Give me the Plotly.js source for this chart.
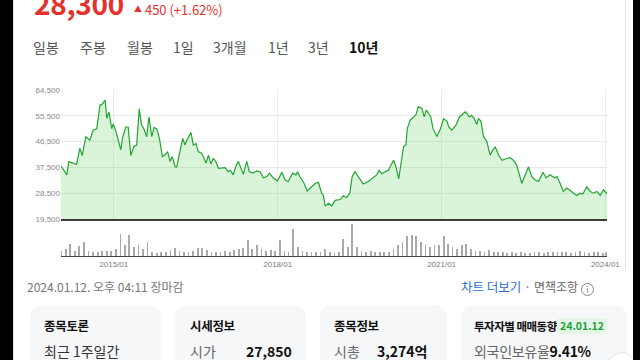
<!DOCTYPE html>
<html><head><meta charset="utf-8">
<script src="https://cdn.plot.ly/plotly-3.0.1.min.js"></script>
<style>
html,body{margin:0;padding:0;width:640px;height:360px;overflow:hidden;background:#000;}
#page{position:absolute;left:13px;top:0;width:620px;height:360px;background:#fff;border-left:1px solid #e3e3e3;}
.t{position:absolute;white-space:nowrap;font-family:"Noto Sans CJK KR","Noto Sans",sans-serif;}
.tab{top:37px;font-size:14px;line-height:20px;color:#555;}
.card{position:absolute;top:305px;height:80px;background:#f6f7f9;border-radius:12px;}
.ct{font-size:12.5px;font-weight:700;color:#111;top:317px;line-height:18px;letter-spacing:-0.3px;}
.cv{font-size:14px;color:#666;top:341px;line-height:20px;}
.cb{font-size:14px;font-weight:700;color:#111;top:341px;line-height:20px;}
#chart{position:absolute;left:0;top:80px;width:640px;height:195px;}
</style></head>
<body>
<div id="page"></div>
<div style="position:absolute;left:625px;top:0;width:1px;height:270px;background:#e6e6e6;"></div>
<div class="t" style="left:34px;top:-13px;font-size:28px;font-weight:700;color:#e5312b;line-height:32px;letter-spacing:-0.3px;">28,300</div>
<div class="t" style="left:134px;top:0px;font-size:13px;color:#e5312b;line-height:18px;"><span style="font-size:8px;vertical-align:3px;">▲</span> 450 (+1.62%)</div>

<div class="t tab" style="left:33px;">일봉</div>
<div class="t tab" style="left:80px;">주봉</div>
<div class="t tab" style="left:127px;">월봉</div>
<div class="t tab" style="left:173px;">1일</div>
<div class="t tab" style="left:213px;">3개월</div>
<div class="t tab" style="left:268px;">1년</div>
<div class="t tab" style="left:308px;">3년</div>
<div class="t tab" style="left:349px;color:#111;font-weight:700;">10년</div>

<div id="chart"></div>

<div class="t" style="left:27px;top:278px;font-size:12px;color:#777;line-height:18px;">2024.01.12. 오후 04:11 장마감</div>
<div class="t" style="left:461px;top:278px;font-size:12.5px;color:#1f6fd6;line-height:18px;">차트 더보기 <span style="color:#888;">·</span> <span style="color:#666;font-size:12px;">면책조항</span> <span style="display:inline-block;width:11px;height:11px;border:1px solid #888;border-radius:50%;font-size:9px;line-height:11px;text-align:center;color:#888;vertical-align:-1px;">i</span></div>

<div class="card" style="left:30px;width:131px;"></div>
<div class="card" style="left:175px;width:131px;"></div>
<div class="card" style="left:320px;width:127px;"></div>
<div class="card" style="left:461px;width:166px;"></div>

<div class="t ct" style="left:44px;">종목토론</div>
<div class="t cv" style="left:44px;color:#333;">최근 1주일간</div>
<div class="t ct" style="left:190px;">시세정보</div>
<div class="t cv" style="left:190px;">시가</div>
<div class="t cb" style="left:246px;">27,850</div>
<div class="t ct" style="left:334px;">종목정보</div>
<div class="t cv" style="left:334px;">시총</div>
<div class="t cb" style="left:377px;">3,274억</div>
<div class="t ct" style="left:474px;font-size:11.5px;letter-spacing:-0.5px;">투자자별 매매동향</div>
<div class="t" style="left:557px;top:318px;font-size:10.5px;font-weight:700;color:#23a03a;background:#e5f6e7;border-radius:3px;padding:0 3px;line-height:16px;">24.01.12</div>
<div class="t cv" style="left:474px;letter-spacing:-0.3px;">외국인보유율<span style="color:#111;font-weight:700;">9.41%</span></div>
<div style="position:absolute;left:607px;top:352px;width:28px;height:28px;border-radius:50%;background:#fff;border:1px solid #e3e3e3;"></div>
<div style="position:absolute;left:633px;top:0;width:7px;height:360px;background:#000;"></div>

<script>
const priceDates = ["2014-01-13","2014-02-21","2014-03-06","2014-04-27","2014-05-19","2014-06-04","2014-06-28","2014-07-25","2014-08-16","2014-09-09","2014-10-01","2014-10-12","2014-11-04","2014-11-15","2014-11-30","2014-12-18","2014-12-28",
"2015-01-16","2015-02-17","2015-02-28","2015-03-22","2015-04-07","2015-04-25","2015-05-15","2015-06-03","2015-06-20","2015-07-06","2015-07-21","2015-08-09","2015-08-24","2015-09-12","2015-09-27","2015-10-15","2015-11-02","2015-11-22","2015-12-09","2015-12-27",
"2016-01-12","2016-01-27","2016-02-15","2016-02-26","2016-03-18","2016-04-06","2016-04-21","2016-05-03","2016-05-31","2016-06-16","2016-07-04","2016-07-19","2016-08-11","2016-08-27","2016-09-09","2016-09-25","2016-10-11","2016-10-28","2016-11-15","2016-12-01","2016-12-23",
"2017-01-15","2017-02-03","2017-02-18","2017-03-10","2017-03-26","2017-04-13","2017-04-28","2017-05-16","2017-06-08","2017-06-25","2017-07-21","2017-08-14","2017-09-05","2017-09-27","2017-10-20","2017-11-07","2017-12-03","2017-12-30",
"2018-01-29","2018-02-20","2018-03-12","2018-04-11","2018-05-03","2018-05-14","2018-05-29","2018-06-26","2018-07-17","2018-08-16","2018-09-08","2018-09-30","2018-10-22","2018-11-03","2018-11-14","2018-12-06","2018-12-28",
"2019-01-20","2019-02-23","2019-03-15","2019-04-07","2019-04-29","2019-05-14","2019-06-02","2019-06-24","2019-07-27","2019-08-30","2019-10-02","2019-10-25","2019-11-10","2019-11-28","2019-12-20",
"2020-01-12","2020-01-23","2020-02-15","2020-03-02","2020-03-20","2020-04-03","2020-04-21","2020-05-07","2020-05-17","2020-06-04","2020-06-27","2020-07-14","2020-07-29","2020-08-22","2020-09-07","2020-09-20","2020-10-06","2020-10-21","2020-11-04","2020-11-30","2020-12-22",
"2021-01-14","2021-02-07","2021-02-17","2021-03-10","2021-04-08","2021-04-30","2021-06-08","2021-06-19","2021-07-06","2021-07-21","2021-08-07","2021-08-25","2021-09-05","2021-09-21","2021-10-08","2021-10-30","2021-11-22","2021-12-10","2021-12-25",
"2022-01-17","2022-02-09","2022-03-12","2022-04-04","2022-04-26","2022-05-18","2022-06-21","2022-07-13","2022-08-05","2022-08-27","2022-09-19","2022-10-11","2022-11-10","2022-12-01","2022-12-28",
"2023-01-26","2023-02-12","2023-03-04","2023-03-26","2023-04-18","2023-05-21","2023-06-24","2023-07-16","2023-08-03","2023-08-30","2023-09-22","2023-10-14","2023-11-06","2023-11-27","2023-12-19",
"2024-01-12"];
const priceValues = [38000,34900,39500,38500,44200,41600,48200,47000,50500,51000,59300,59300,61000,54600,56800,51000,52700,
49900,43600,47600,51600,51600,41600,44800,45300,57900,52300,51000,48200,55100,48200,51400,51000,47600,41300,41800,43000,
39600,41300,37700,37700,43000,47600,45300,47000,49700,45300,45800,43000,42400,40700,39000,41800,38700,40700,39300,37200,37200,
37400,36000,36500,34900,37700,39600,37700,35100,39600,36000,35500,36300,36000,33900,34300,35500,33800,32800,
35800,33100,32600,35500,34900,36000,34300,32000,29300,30800,31900,32300,28500,27700,24000,25000,24100,
26000,26300,27600,27000,28700,34300,36000,34300,31700,32600,33800,34900,36500,35300,36000,
36500,37700,40000,37700,33500,38300,44700,45300,51100,53900,55100,55900,58700,58100,55100,57500,56300,55100,51100,48300,50600,
54500,53600,51700,50500,52300,55100,56900,56300,55100,55700,54500,52500,54500,53700,48300,46600,41800,43600,44700,
41800,40000,40600,40900,40000,38300,31900,34900,37700,34300,33100,32600,35800,33900,34900,
33900,34300,32000,29100,30300,29100,27700,28500,28200,30700,29100,28500,29100,27700,29700,
28300];

const volumeYears = [2014,2015,2016,2017,2018,2019,2020,2021,2022,2023];
const volume2014 = [15,20,35,15,28,38,15,12,12,15,15,14];
const volume2015 = [20,62,30,60,25,32,20,40,12,8,10,12];
const volume2016 = [18,22,15,12,12,15,22,22,18,12,10,12];
const volume2017 = [15,12,18,20,22,45,20,30,20,15,18,15];
const volume2018 = [45,15,12,75,25,15,12,10,12,12,20,10];
const volume2019 = [8,10,48,25,90,25,15,12,15,12,10,12];
const volume2020 = [12,20,30,40,55,60,55,40,30,25,30,32];
const volume2021 = [55,35,25,20,30,35,20,15,15,12,18,12];
const volume2022 = [12,10,8,10,8,10,8,8,10,12,8,10];
const volume2023 = [12,10,12,10,8,12,15,10,8,10,12,8];
const volume2024Jan = 10;

const tickDates = ["2015-01-01","2018-01-01","2021-01-01","2024-01-01"];
const tickLabels = ["2015/01","2018/01","2021/01","2024/01"];
const priceTicks = [19500,28500,37500,46500,55500,64500];

const volByYear = [volume2014,volume2015,volume2016,volume2017,volume2018,volume2019,volume2020,volume2021,volume2022,volume2023];
const volDates = [], volValues = [];
volumeYears.forEach((y,i)=>{
  volByYear[i].forEach((v,m)=>{
    volDates.push(y+"-"+String(m+1).padStart(2,"0")+"-15");
    volValues.push(v);
  });
});
volDates.push("2024-01-06"); volValues.push(volume2024Jan);

const traces = [
  {x:priceDates,y:priceValues,type:"scatter",mode:"lines",fill:"tozeroy",
   line:{color:"#22a532",width:1.2},fillcolor:"rgba(120,215,120,0.28)",xaxis:"x",yaxis:"y",hoverinfo:"skip"},
  {x:volDates,y:volValues,type:"bar",width:1.0e9,marker:{color:"#a9a9a9",line:{width:0}},xaxis:"x2",yaxis:"y2",hoverinfo:"skip"}
];
const xr = ["2014-01-13","2024-01-12"];
const layout = {
  width:640,height:195,
  margin:{l:61,r:33,t:10,b:19},
  paper_bgcolor:"rgba(0,0,0,0)",plot_bgcolor:"#fff",
  showlegend:false,bargap:0,
  font:{family:"Liberation Sans, Arial, sans-serif",size:8,color:"#888"},
  xaxis:{type:"date",range:xr,domain:[0,1],anchor:"y",tickvals:tickDates,showticklabels:false,
    showgrid:true,gridcolor:"#ececec",gridwidth:1,showline:true,linecolor:"#3b3b3b",linewidth:2,zeroline:false,ticks:""},
  yaxis:{domain:[0.2229,1],range:[19500,64500],tickvals:priceTicks,tickformat:",d",
    showgrid:true,gridcolor:"#e8e8e8",zeroline:false,ticks:"",showline:false,
    tickfont:{size:8,color:"#8a8a8a"}},
  xaxis2:{type:"date",range:xr,anchor:"y2",tickvals:tickDates,ticktext:tickLabels,
    showgrid:false,showline:true,linecolor:"#444",linewidth:1,zeroline:false,ticks:"",
    tickfont:{size:8,color:"#7a7a7a"}},
  yaxis2:{domain:[0,0.1928],range:[0,90],showticklabels:false,showgrid:false,zeroline:false,ticks:""}
};
Plotly.newPlot("chart",traces,layout,{staticPlot:true,displayModeBar:false});
</script>
</body></html>
